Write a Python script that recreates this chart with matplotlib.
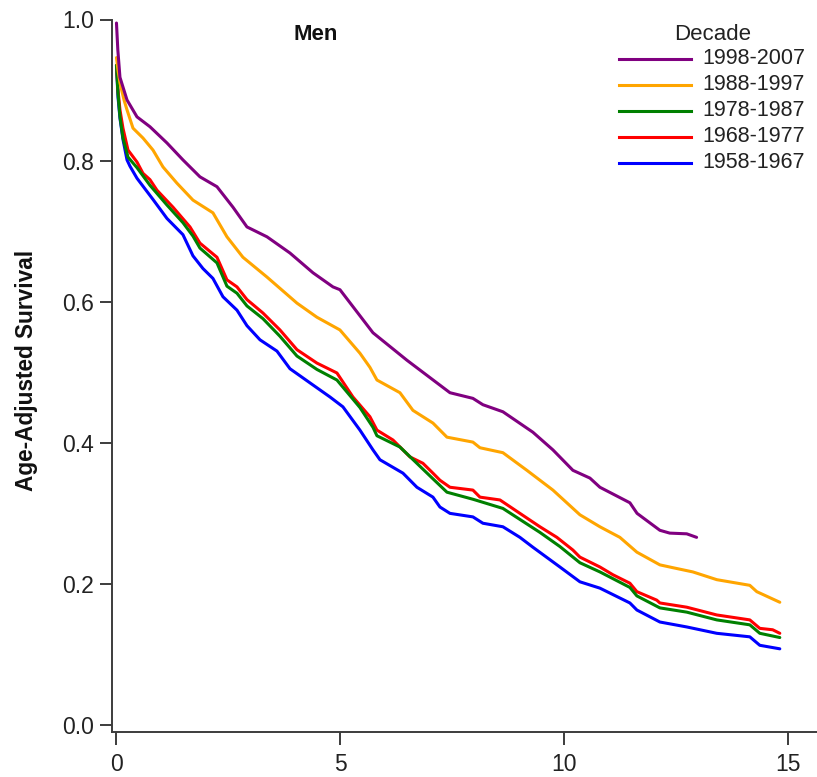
import matplotlib
matplotlib.use("Agg")
import matplotlib.pyplot as plt
from matplotlib.lines import Line2D
from matplotlib.ticker import FormatStrFormatter

plt.rcParams['font.family'] = ['Liberation Sans', 'DejaVu Sans']

# Age-adjusted survival by decade
decades = ["1998-2007", "1988-1997", "1978-1987", "1968-1977", "1958-1967"]
colors = ["#800080", "#FFA500", "#008000", "#FF0000", "#0000FF"]

x_9807 = [0, 0.03, 0.078, 0.235, 0.458, 0.748, 1.128, 1.485, 1.865, 2.245, 2.602, 2.915,
          3.362, 3.876, 4.39, 4.836, 4.993, 5.73, 6.49, 7.45, 7.963, 8.186, 8.633, 9.303,
          9.75, 10.197, 10.577, 10.8, 11.47, 11.63, 12.14, 12.36, 12.74, 12.96]
y_9807 = [0.995, 0.957, 0.918, 0.886, 0.862, 0.848, 0.825, 0.801, 0.777, 0.763, 0.734, 0.706,
          0.692, 0.669, 0.641, 0.621, 0.617, 0.556, 0.517, 0.471, 0.463, 0.454, 0.444, 0.415,
          0.39, 0.361, 0.35, 0.337, 0.315, 0.3, 0.276, 0.272, 0.271, 0.266]

x_8897 = [0, 0.034, 0.078, 0.168, 0.235, 0.369, 0.592, 0.815, 1.039, 1.351, 1.709, 2.155,
          2.468, 2.825, 3.361, 4.032, 4.478, 4.992, 5.439, 5.662, 5.819, 6.333, 6.623, 7.07,
          7.383, 7.963, 8.12, 8.633, 9.169, 9.75, 10.353, 10.8, 11.246, 11.626, 12.14, 12.43,
          12.876, 13.412, 14.149, 14.305, 14.819]
y_8897 = [0.946, 0.928, 0.91, 0.886, 0.872, 0.846, 0.832, 0.815, 0.791, 0.768, 0.744, 0.726,
          0.692, 0.663, 0.635, 0.598, 0.578, 0.56, 0.527, 0.507, 0.489, 0.471, 0.446, 0.428,
          0.408, 0.401, 0.393, 0.386, 0.361, 0.333, 0.298, 0.281, 0.266, 0.245, 0.227, 0.223,
          0.217, 0.206, 0.198, 0.189, 0.174]

x_7887 = [0, 0.034, 0.078, 0.145, 0.257, 0.458, 0.748, 1.128, 1.485, 1.709, 1.865, 2.245,
          2.468, 2.692, 2.915, 3.272, 3.652, 4.032, 4.478, 4.925, 5.439, 5.73, 5.819, 6.333,
          7.07, 7.383, 7.963, 8.633, 9.46, 9.906, 10.353, 10.8, 11.47, 11.626, 12.14, 12.74,
          13.41, 14.149, 14.372, 14.819]
y_7887 = [0.935, 0.895, 0.862, 0.832, 0.805, 0.79, 0.765, 0.737, 0.712, 0.693, 0.676, 0.655,
          0.622, 0.612, 0.594, 0.576, 0.551, 0.523, 0.504, 0.489, 0.45, 0.422, 0.41, 0.394,
          0.349, 0.33, 0.32, 0.307, 0.273, 0.253, 0.23, 0.217, 0.195, 0.183, 0.166, 0.16,
          0.149, 0.142, 0.13, 0.124]

x_6877 = [0, 0.034, 0.078, 0.145, 0.257, 0.458, 0.592, 0.748, 0.905, 1.262, 1.642, 1.865,
          2.245, 2.468, 2.692, 2.915, 3.272, 3.652, 4.032, 4.478, 4.925, 5.282, 5.662, 5.819,
          6.177, 6.557, 6.846, 7.07, 7.226, 7.45, 7.963, 8.12, 8.567, 9.013, 9.46, 9.839,
          10.197, 10.353, 10.8, 11.09, 11.47, 11.626, 12.07, 12.14, 12.74, 13.41, 14.149,
          14.372, 14.66, 14.819]
y_6877 = [0.935, 0.9, 0.872, 0.846, 0.815, 0.798, 0.782, 0.773, 0.758, 0.734, 0.706, 0.683,
          0.663, 0.631, 0.621, 0.603, 0.584, 0.56, 0.532, 0.513, 0.499, 0.465, 0.437, 0.418,
          0.404, 0.38, 0.371, 0.357, 0.347, 0.337, 0.333, 0.323, 0.319, 0.3, 0.281, 0.266,
          0.248, 0.238, 0.224, 0.213, 0.201, 0.189, 0.177, 0.173, 0.167, 0.156, 0.149,
          0.137, 0.135, 0.13]

x_5867 = [0, 0.034, 0.078, 0.145, 0.235, 0.302, 0.458, 0.815, 1.128, 1.485, 1.709, 1.932,
          2.155, 2.379, 2.692, 2.915, 3.206, 3.585, 3.876, 4.322, 4.769, 5.059, 5.439, 5.73,
          5.886, 6.4, 6.712, 7.07, 7.226, 7.45, 7.963, 8.186, 8.633, 9.013, 9.303, 9.906,
          10.353, 10.8, 11.47, 11.626, 12.14, 12.74, 13.41, 14.149, 14.372, 14.819]
y_5867 = [0.935, 0.89, 0.86, 0.83, 0.801, 0.792, 0.775, 0.745, 0.718, 0.695, 0.665, 0.647,
          0.633, 0.607, 0.588, 0.566, 0.546, 0.53, 0.505, 0.485, 0.465, 0.451, 0.418, 0.39,
          0.376, 0.357, 0.337, 0.323, 0.309, 0.3, 0.295, 0.286, 0.281, 0.266, 0.252, 0.224,
          0.203, 0.194, 0.173, 0.163, 0.146, 0.139, 0.13, 0.125, 0.113, 0.108]

series_x = [x_9807, x_8897, x_7887, x_6877, x_5867]
series_y = [y_9807, y_8897, y_7887, y_6877, y_5867]

fig = plt.figure(figsize=(8.17, 7.77), dpi=100)
ax = fig.add_axes([112 / 817, 45 / 777, 705 / 817, 712.5 / 777])

# draw oldest decade first so the newer ones sit on top
for i in reversed(range(len(decades))):
    ax.plot(series_x[i], series_y[i], color=colors[i], lw=2.2,
            solid_joinstyle='round', solid_capstyle='round', clip_on=False)

ax.set_xlim(-0.1, 15.65)
ax.set_ylim(-0.0099, 1.0)
ax.set_xticks([0, 5, 10, 15])
ax.set_yticks([0.0, 0.2, 0.4, 0.6, 0.8, 1.0])
ax.yaxis.set_major_formatter(FormatStrFormatter('%.1f'))

spine_col = '#3c3c3c'
for side in ['top', 'right']:
    ax.spines[side].set_visible(False)
for side in ['left', 'bottom']:
    ax.spines[side].set_color(spine_col)
    ax.spines[side].set_linewidth(1.4)
ax.tick_params(axis='both', direction='out', length=9, width=1.4, color=spine_col,
               labelsize=16.5, labelcolor='#222222')
ax.tick_params(axis='x', pad=6)
ax.tick_params(axis='y', pad=4)

fig.text(27 / 817, 1 - 370 / 777, 'Age-Adjusted Survival', rotation=90,
         ha='center', va='center', fontsize=16.3, fontweight='bold', color='#111111')
fig.text(316 / 817, 1 - 35 / 777, 'Men', ha='center', va='center',
         fontsize=16, fontweight='bold', color='#111111')

# legend, drawn by hand in figure pixels so it matches the reference spacing
W, H = 817, 777
fig.text(713 / W, 1 - 34 / H, 'Decade', ha='center', va='center',
         fontsize=16, color='#222222')
for k, (name, col) in enumerate(zip(decades, colors)):
    yc = 1 - (59 + 26 * k) / H
    fig.add_artist(Line2D([619 / W, 691 / W], [yc, yc], color=col, lw=2.2,
                          transform=fig.transFigure))
    fig.text(702 / W, yc, name, ha='left', va='center', fontsize=15.5,
             color='#222222')

fig.savefig('out.png', dpi=100)
